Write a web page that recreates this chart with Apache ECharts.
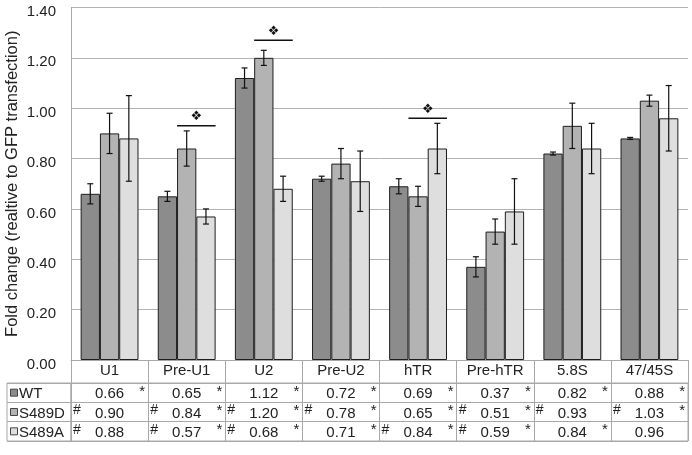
<!DOCTYPE html>
<html><head><meta charset="utf-8">
<script src="https://cdn.jsdelivr.net/npm/echarts@6/dist/echarts.min.js"></script>
<style>html,body{margin:0;padding:0;background:#fff}#c{width:692px;height:455px}</style>
</head><body><div id="c"></div>
<script>
const categories = ['U1','Pre-U1','U2','Pre-U2','hTR','Pre-hTR','5.8S','47/45S'];
const seriesNames = ['WT','S489D','S489A'];
const wtValues = [0.66,0.65,1.12,0.72,0.69,0.37,0.82,0.88];
const s489dValues = [0.90,0.84,1.20,0.78,0.65,0.51,0.93,1.03];
const s489aValues = [0.88,0.57,0.68,0.71,0.84,0.59,0.84,0.96];
const wtErrors = [0.04,0.02,0.04,0.01,0.03,0.04,0.006,0.004];
const s489dErrors = [0.08,0.07,0.03,0.06,0.04,0.05,0.09,0.022];
const s489aErrors = [0.17,0.03,0.05,0.12,0.10,0.13,0.10,0.13];
const wtHash = [0,0,0,0,0,0,0,0];
const s489dHash = [1,1,1,1,0,1,1,1];
const s489aHash = [1,1,1,0,1,1,0,0];
const wtStar = [1,1,1,1,1,1,1,1];
const s489dStar = [0,1,1,1,1,1,0,1];
const s489aStar = [0,1,1,1,1,1,1,0];
const sigCategories = [1,2,4];
const sigLineValues = [0.93,1.27,0.96];
const sigMarker = '\u2756';
const yAxisName = 'Fold change (realtive to GFP transfection)';

const colors = ['#8c8c8c','#b3b3b3','#dedede'];
const FONT = '"Liberation Sans", Arial, sans-serif';
const lineGray = '#a8a8a8';
const values = [wtValues, s489dValues, s489aValues];
const errors = [wtErrors, s489dErrors, s489aErrors];
const hashes = [wtHash, s489dHash, s489aHash];
const stars = [wtStar, s489dStar, s489aStar];
const GAP = 0.25;

function barCenter(api, cat, k) {
  const band = api.size([1, 0])[0];
  const bw = band * (1 - GAP) / 3;
  return { cx: api.coord([cat, 0])[0] - 1.5 * bw + (k + 0.5) * bw, bw: bw };
}

function errItem(k) {
  return function (params, api) {
    const cat = api.value(0), v = api.value(1), e = api.value(2);
    const cx = barCenter(api, cat, k).cx;
    const top = api.coord([cat, v + e])[1], bot = api.coord([cat, v - e])[1];
    const st = { stroke: '#111', lineWidth: 1.2 };
    return { type: 'group', children: [
      { type: 'line', shape: { x1: cx, y1: top, x2: cx, y2: bot }, style: st },
      { type: 'line', shape: { x1: cx - 3, y1: top, x2: cx + 3, y2: top }, style: st },
      { type: 'line', shape: { x1: cx - 3, y1: bot, x2: cx + 3, y2: bot }, style: st }
    ] };
  };
}

const series = [];
seriesNames.forEach(function (n, k) {
  series.push({
    type: 'bar', name: n, xAxisIndex: 0, yAxisIndex: 0,
    data: values[k], barGap: '0%', barCategoryGap: (GAP * 100) + '%',
    itemStyle: { color: colors[k], borderColor: '#1e1e1e', borderWidth: 1 },
    emphasis: { disabled: true }, silent: true
  });
});
seriesNames.forEach(function (n, k) {
  series.push({
    type: 'custom', xAxisIndex: 0, yAxisIndex: 0, z: 5, silent: true,
    renderItem: errItem(k),
    encode: { x: 0, y: 1 },
    data: categories.map(function (c, i) { return [i, values[k][i], errors[k][i]]; })
  });
});
series.push({
  type: 'custom', xAxisIndex: 0, yAxisIndex: 0, z: 6, silent: true,
  encode: { x: 0, y: 1 },
  data: sigCategories.map(function (c, i) { return [c, sigLineValues[i]]; }),
  renderItem: function (params, api) {
    const cat = api.value(0), v = api.value(1);
    const b = barCenter(api, cat, 1);
    const x1 = b.cx - b.bw / 2, x2 = b.cx + 1.5 * b.bw;
    const y = api.coord([cat, v])[1];
    return { type: 'group', children: [
      { type: 'line', shape: { x1: x1, y1: y, x2: x2, y2: y }, style: { stroke: '#111', lineWidth: 1.5 } },
      { type: 'text', x: b.cx + b.bw / 2, y: y - 9, style: { text: sigMarker, fill: '#111', font: '13px "DejaVu Sans"', textAlign: 'center', textVerticalAlign: 'middle' } }
    ] };
  }
});
const tableData = [];
seriesNames.forEach(function (n, k) {
  categories.forEach(function (c, i) {
    tableData.push([i, k, values[k][i], hashes[k][i], stars[k][i]]);
  });
});
series.push({
  type: 'custom', xAxisIndex: 1, yAxisIndex: 1, silent: true, z: 5,
  encode: { x: 0, y: 1 },
  data: tableData,
  renderItem: function (params, api) {
    const c = api.coord([api.value(0), api.value(1)]);
    const s = api.size([1, 1]);
    const left = c[0] - s[0] / 2, right = c[0] + s[0] / 2, top = c[1] - s[1] / 2;
    const ch = [{ type: 'text', x: c[0], y: c[1] + 1.5, style: { text: api.value(2).toFixed(2), fill: '#222', font: '15px ' + FONT, textAlign: 'center', textVerticalAlign: 'middle' } }];
    if (api.value(3)) ch.push({ type: 'text', x: left + 2, y: top + 1, style: { text: '#', fill: '#222', font: '14px ' + FONT, textAlign: 'left', textVerticalAlign: 'top' } });
    if (api.value(4)) ch.push({ type: 'text', x: right - 3, y: top + 1, style: { text: '*', fill: '#222', font: '15px ' + FONT, textAlign: 'right', textVerticalAlign: 'top' } });
    return { type: 'group', children: ch };
  }
});
series.push({
  type: 'custom', xAxisIndex: 2, yAxisIndex: 2, silent: true, z: 5,
  encode: { x: 0, y: 1 },
  data: seriesNames.map(function (n, k) { return [0, k]; }),
  renderItem: function (params, api) {
    const k = api.value(1);
    const c = api.coord([0, k]);
    const s = api.size([1, 1]);
    const left = c[0] - s[0] / 2;
    return { type: 'group', children: [
      { type: 'rect', shape: { x: left + 3.5, y: c[1] - 3.5, width: 7, height: 7 }, style: { fill: colors[k], stroke: '#444', lineWidth: 1 } },
      { type: 'text', x: left + 12, y: c[1] + 1.5, style: { text: seriesNames[k], fill: '#222', font: '15px ' + FONT, textAlign: 'left', textVerticalAlign: 'middle' } }
    ] };
  }
});

const chart = echarts.init(document.getElementById('c'), null, { renderer: 'canvas' });
chart.setOption({
  animation: false,
  backgroundColor: '#fff',
  textStyle: { fontFamily: FONT },
  grid: [
    { left: 71, right: 4, top: 7.5, height: 352.5, containLabel: false, outerBoundsMode: 'none' },
    { left: 71, right: 4, top: 383, height: 58, show: true, borderColor: lineGray, borderWidth: 1, outerBoundsMode: 'none' },
    { left: 7, width: 64, top: 383, height: 58, show: true, borderColor: lineGray, borderWidth: 1, outerBoundsMode: 'none' }
  ],
  xAxis: [
    { type: 'category', gridIndex: 0, data: categories,
      axisLine: { show: true, lineStyle: { color: lineGray } },
      axisTick: { show: true, length: 23, interval: 0, lineStyle: { color: lineGray } },
      axisLabel: { interval: 0, margin: 3, fontSize: 15, color: '#222', fontFamily: FONT },
      splitLine: { show: false } },
    { type: 'category', gridIndex: 1, data: categories,
      axisLine: { show: false }, axisTick: { show: false }, axisLabel: { show: false },
      splitLine: { show: true, interval: 0, lineStyle: { color: lineGray } } },
    { type: 'category', gridIndex: 2, data: [''],
      axisLine: { show: false }, axisTick: { show: false }, axisLabel: { show: false } }
  ],
  yAxis: [
    { type: 'value', gridIndex: 0, min: 0, max: 1.4, interval: 0.2,
      name: yAxisName, nameLocation: 'middle', nameRotate: 90, nameGap: 50, nameMoveOverlap: false,
      nameTextStyle: { fontSize: 16.5, color: '#222', fontFamily: FONT },
      axisLine: { show: true, lineStyle: { color: lineGray } },
      axisTick: { show: false },
      axisLabel: { formatter: function (v) { return v.toFixed(2); }, fontSize: 15, color: '#222', margin: 15,
        verticalAlign: 'top', lineHeight: 9, fontFamily: FONT },
      splitLine: { show: true, lineStyle: { color: '#b3b3b3' } } },
    { type: 'category', gridIndex: 1, data: seriesNames, inverse: true,
      axisLine: { show: false }, axisTick: { show: false }, axisLabel: { show: false },
      splitLine: { show: true, interval: 0, lineStyle: { color: lineGray } } },
    { type: 'category', gridIndex: 2, data: seriesNames, inverse: true,
      axisLine: { show: false }, axisTick: { show: false }, axisLabel: { show: false },
      splitLine: { show: true, interval: 0, lineStyle: { color: lineGray } } }
  ],
  series: series
});
</script>
</body></html>
